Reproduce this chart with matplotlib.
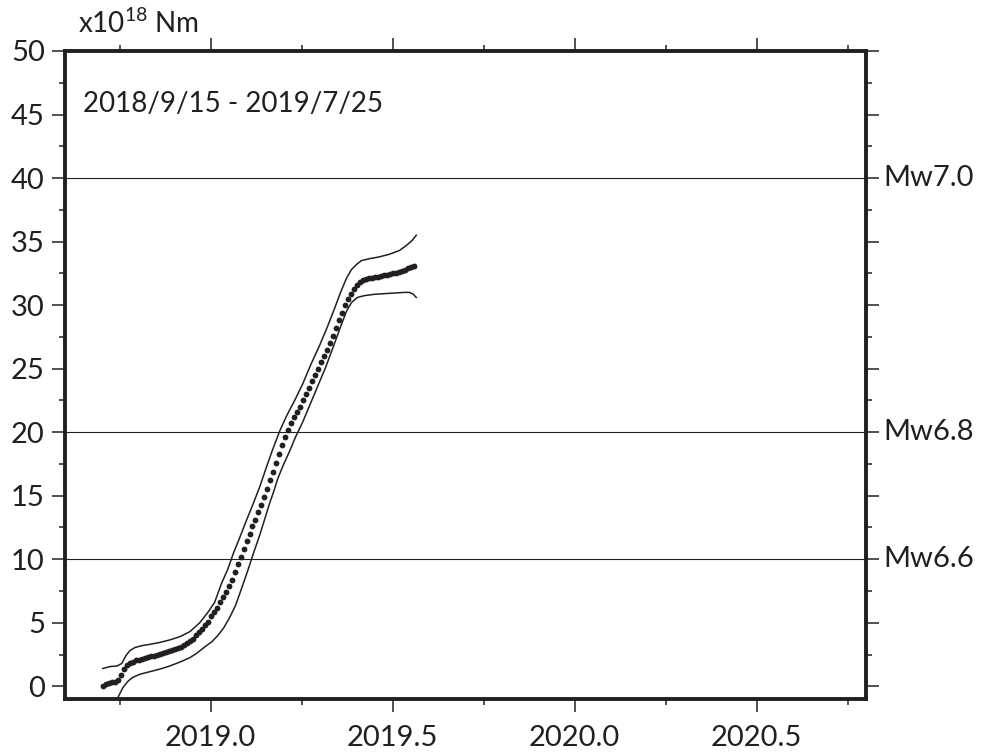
import numpy as np
import pandas as pd
import matplotlib
matplotlib.use('Agg')
import matplotlib.pyplot as plt
from matplotlib.ticker import MultipleLocator

plt.rcParams['font.family'] = ['Lato', 'DejaVu Sans']
plt.rcParams['mathtext.default'] = 'regular'

ink = '#231f20'

# モーメント (x10^18 Nm), 2018/9/15 から3日ごと
dates = pd.date_range('2018-09-15', '2019-07-25', freq='3D')
moment = [0.0, 0.15, 0.25, 0.3, 0.35, 0.5, 0.9, 1.4, 1.7, 1.85,
          1.95, 2.05, 2.1, 2.15, 2.2, 2.3, 2.35, 2.4, 2.45, 2.55,
          2.6, 2.7, 2.75, 2.85, 2.95, 3.0, 3.1, 3.25, 3.4, 3.55,
          3.75, 4.0, 4.25, 4.5, 4.8, 5.1, 5.5, 5.85, 6.2, 6.6,
          7.0, 7.45, 7.9, 8.4, 9.0, 9.6, 10.2, 10.8, 11.4, 12.0,
          12.6, 13.1, 13.7, 14.3, 14.9, 15.5, 16.2, 16.9, 17.6, 18.3,
          19.0, 19.6, 20.2, 20.7, 21.2, 21.6, 22.0, 22.5, 23.0, 23.5,
          24.0, 24.5, 25.0, 25.5, 26.0, 26.5, 27.0, 27.6, 28.2, 28.8,
          29.4, 30.0, 30.5, 30.9, 31.3, 31.6, 31.8, 31.95, 32.05, 32.1,
          32.15, 32.2, 32.25, 32.3, 32.35, 32.4, 32.45, 32.5, 32.55, 32.6,
          32.7, 32.8, 32.9, 33.0, 33.1]

# 上限
upper_t = [2018.704, 2018.723, 2018.743, 2018.756, 2018.767, 2018.778, 2018.792,
           2018.811, 2018.833, 2018.860, 2018.888, 2018.915, 2018.943, 2018.970,
           2018.992, 2019.011, 2019.030, 2019.047, 2019.063, 2019.080, 2019.099,
           2019.116, 2019.135, 2019.154, 2019.170, 2019.190, 2019.209, 2019.231,
           2019.253, 2019.275, 2019.299, 2019.321, 2019.340, 2019.357, 2019.373,
           2019.387, 2019.401, 2019.414, 2019.436, 2019.464, 2019.491, 2019.519,
           2019.538, 2019.554, 2019.565]
upper_v = [1.4, 1.55, 1.6, 1.8, 2.4, 2.8, 3.05, 3.2, 3.3, 3.45,
           3.65, 3.9, 4.3, 5.0, 5.8, 6.6, 8.1, 9.2, 10.5, 11.7,
           13.1, 14.3, 15.7, 17.3, 18.6, 20.1, 21.3, 22.5, 23.8, 25.3,
           26.8, 28.3, 29.7, 31.0, 32.1, 32.8, 33.2, 33.5, 33.65, 33.8,
           34.0, 34.3, 34.7, 35.1, 35.5]

# 下限
lower_t = [2018.734, 2018.745, 2018.759, 2018.773, 2018.786, 2018.806, 2018.833,
           2018.860, 2018.888, 2018.915, 2018.943, 2018.962, 2018.984, 2019.003,
           2019.020, 2019.036, 2019.052, 2019.069, 2019.085, 2019.102, 2019.118,
           2019.135, 2019.148, 2019.162, 2019.173, 2019.184, 2019.198, 2019.217,
           2019.233, 2019.253, 2019.272, 2019.294, 2019.316, 2019.338, 2019.357,
           2019.373, 2019.387, 2019.403, 2019.423, 2019.450, 2019.477, 2019.505,
           2019.532, 2019.546, 2019.557, 2019.565]
lower_v = [-1.6, -0.9, -0.1, 0.4, 0.7, 0.95, 1.15, 1.35, 1.6, 1.9,
           2.25, 2.6, 3.1, 3.5, 4.0, 4.6, 5.4, 6.4, 7.7, 9.1,
           10.5, 11.9, 13.1, 14.4, 15.3, 16.3, 17.3, 18.5, 19.6, 20.8,
           22.1, 23.6, 25.1, 26.8, 28.3, 29.5, 30.2, 30.6, 30.75, 30.85,
           30.9, 30.95, 31.0, 31.0, 30.85, 30.6]

mw_levels = [10, 20, 40]
mw_labels = ['Mw6.6', 'Mw6.8', 'Mw7.0']

# 日付を小数年に
t_dots = dates.year + (dates.dayofyear - 1) / 365.0

fig = plt.figure(figsize=(9.85, 7.53), dpi=100)
ax = fig.add_axes([0.066, 0.0717, 0.813, 0.8606])

for lv in mw_levels:
    ax.axhline(lv, color=ink, lw=0.8, zorder=1)

ax.plot(upper_t, upper_v, color=ink, lw=1.1, zorder=2)
ax.plot(lower_t, lower_v, color=ink, lw=1.1, zorder=2)
ax.plot(t_dots, moment, 'o', color=ink, ms=4.2, mec='none', zorder=3)

ax.set_xlim(2018.6, 2020.8)
ax.set_ylim(-1.0, 50)

ax.xaxis.set_major_locator(MultipleLocator(0.5))
ax.xaxis.set_minor_locator(MultipleLocator(0.25))
ax.yaxis.set_major_locator(MultipleLocator(5))
ax.yaxis.set_minor_locator(MultipleLocator(2.5))
ax.xaxis.set_major_formatter(matplotlib.ticker.FormatStrFormatter('%.1f'))

ax.tick_params(which='both', direction='out', top=True, right=True,
               color=ink, width=1.1, labelsize=21, labelcolor=ink)
ax.tick_params(which='major', length=9.5)
ax.tick_params(which='minor', length=4.5)
ax.tick_params(axis='x', which='major', pad=9)
ax.tick_params(axis='y', which='major', pad=5)
ax.tick_params(axis='y', which='both', labelright=False)

for s in ax.spines.values():
    s.set_linewidth(2.8)
    s.set_color(ink)

ax.text(2018.65, 45.8, '2018/9/15 - 2019/7/25', fontsize=20, color=ink,
        va='center', ha='left')

for lv, lab in zip(mw_levels, mw_labels):
    ax.text(1.022, lv, lab, transform=ax.get_yaxis_transform(),
            fontsize=21, color=ink, va='center', ha='left')

fig.text(0.079, 0.956, r'x10$^{18}$ Nm', fontsize=20, color=ink,
         va='baseline', ha='left')

fig.savefig('out.png', dpi=100)
